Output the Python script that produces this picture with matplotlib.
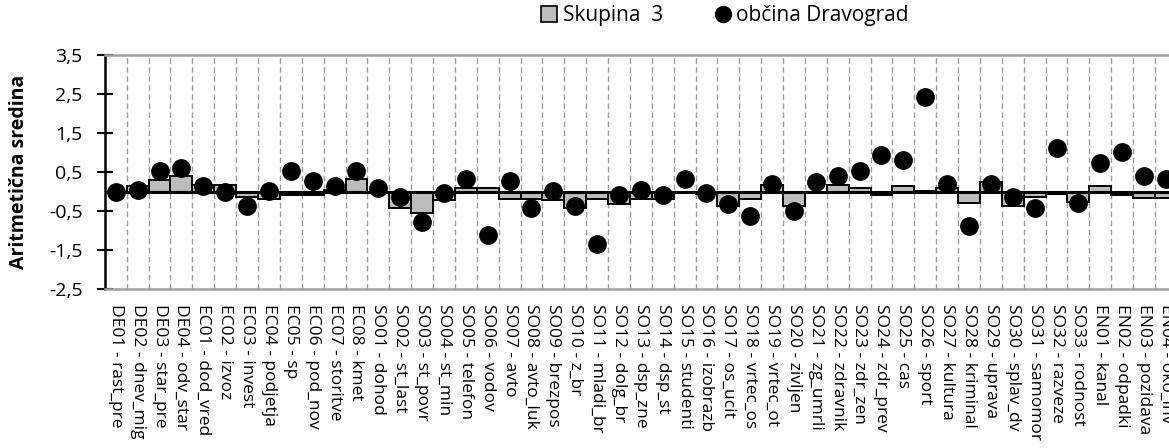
import numpy as np
import matplotlib
matplotlib.use("Agg")
import matplotlib.pyplot as plt
from matplotlib.lines import Line2D

plt.rcParams["font.family"] = ["Open Sans", "DejaVu Sans"]

categories = [
    "DE01 - rast_pre", "DE02 - dnev_mig", "DE03 - star_pre", "DE04 - odv_star",
    "EC01 - dod_vred", "EC02 - izvoz", "EC03 - invest", "EC04 - podjetja",
    "EC05 - sp", "EC06 - pod_nov", "EC07 - storitve", "EC08 - kmet",
    "SO01 - dohod", "SO02 - st_last", "SO03 - st_povr", "SO04 - st_min",
    "SO05 - telefon", "SO06 - vodov", "SO07 - avto", "SO08 - avto_luk",
    "SO09 - brezpos", "SO10 - z_br", "SO11 - mladi_br", "SO12 - dolg_br",
    "SO13 - dsp_zne", "SO14 - dsp_st", "SO15 - studenti", "SO16 - izobrazb",
    "SO17 - os_ucit", "SO18 - vrtec_os", "SO19 - vrtec_ot", "SO20 - zivljen",
    "SO21 - zg_umrli", "SO22 - zdravnik", "SO23 - zdr_zen", "SO24 - zdr_prev",
    "SO25 - cas", "SO26 - sport", "SO27 - kultura", "SO28 - kriminal",
    "SO29 - uprava", "SO30 - splav_dv", "SO31 - samomor", "SO32 - razveze",
    "SO33 - rodnost", "EN01 - kanal", "EN02 - odpadki", "EN03 - pozidava",
    "EN04 - oko_inv",
]

# Skupina 3 (stolpci)
skupina = [0.0, 0.14, 0.29, 0.41, 0.18, 0.18, -0.14, -0.19, -0.08, -0.08,
           0.03, 0.31, -0.02, -0.42, -0.55, -0.23, 0.10, 0.10, -0.18, -0.18,
           -0.23, -0.42, -0.18, -0.33, -0.18, -0.18, -0.02, -0.06, -0.37, -0.18,
           0.18, -0.37, 0.0, 0.18, 0.09, -0.10, 0.14, 0.02, 0.09, -0.29,
           0.24, -0.37, -0.14, -0.07, -0.27, 0.13, -0.09, -0.17, -0.17]

# občina Dravograd (točke)
obcina = [0.0, 0.05, 0.52, 0.60, 0.14, 0.0, -0.36, 0.02, 0.52, 0.28,
          0.14, 0.52, 0.10, -0.14, -0.79, -0.03, 0.32, -1.12, 0.28, -0.42,
          0.02, -0.37, -1.35, -0.10, 0.05, -0.10, 0.33, -0.03, -0.31, -0.63,
          0.20, -0.51, 0.24, 0.41, 0.52, 0.93, 0.80, 2.43, 0.19, -0.88,
          0.19, -0.14, -0.42, 1.12, -0.29, 0.74, 1.02, 0.41, 0.31]

yticks = [3.5, 2.5, 1.5, 0.5, -0.5, -1.5, -2.5]
ytick_labels = ["3,5", "2,5", "1,5", "0,5", "-0,5", "-1,5", "-2,5"]

BAR_C = "#bcbcbc"
GRID_C = "#9a9a9a"

fig = plt.figure(figsize=(11.69, 4.48), dpi=100)
ax = fig.add_axes([0.0897, 0.355, 0.917, 0.522])

x = np.arange(len(categories))

# navpične črtkane mreže na mejah kategorij
for b in np.arange(0.5, len(categories) - 0.5, 1.0):
    ax.axvline(b, color=GRID_C, lw=1.0, ls=(0, (4, 2.5)), zorder=1)

ax.bar(x, skupina, width=1.0, color=BAR_C, edgecolor="black", lw=1.4, zorder=2)
ax.axhline(0, color="black", lw=2.2, zorder=3)
ax.plot(x, obcina, "o", color="black", ms=12.5, zorder=4)

ax.set_xlim(-0.5, len(categories) - 0.5)
ax.set_ylim(-2.5, 3.5)
ax.set_yticks(yticks)
ax.set_yticklabels(ytick_labels, fontsize=14)
ax.set_xticks(x)
ax.set_xticklabels(categories, rotation=270, ha="center", va="top", fontsize=12.5)
ax.tick_params(axis="x", length=0, pad=11)
ax.tick_params(axis="y", direction="inout", length=12, width=1.5, pad=10)

for side in ("top", "bottom"):
    ax.spines[side].set_color("#a0a0a0")
    ax.spines[side].set_linewidth(1.8)
ax.spines["right"].set_visible(False)
ax.spines["left"].set_color("black")
ax.spines["left"].set_linewidth(1.8)

ax.set_ylabel("Aritmetična sredina", fontsize=14, fontweight="bold")
ax.yaxis.set_label_coords(-0.0705, 0.5)

handles = [
    Line2D([], [], ls="none", marker="s", ms=11, mfc=BAR_C, mec="black", mew=1.2),
    Line2D([], [], ls="none", marker="o", ms=11.5, mfc="black", mec="black"),
]
fig.legend(handles, ["Skupina  3", "občina Dravograd"], loc="center left",
           bbox_to_anchor=(0.446, 0.965), ncol=2, frameon=False, fontsize=15,
           handletextpad=0.2, columnspacing=2.4, handlelength=0.9)

fig.savefig("out.png", dpi=100)
